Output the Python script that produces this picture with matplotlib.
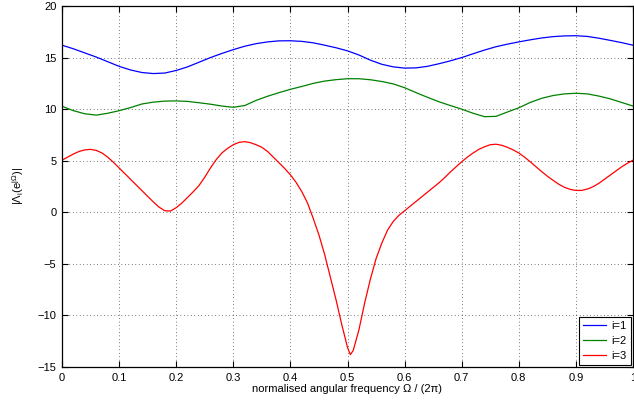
import matplotlib
matplotlib.use('Agg')
import matplotlib.pyplot as plt

plt.rcParams['font.family'] = ['Liberation Sans', 'DejaVu Sans']
plt.rcParams['mathtext.fontset'] = 'custom'
plt.rcParams['mathtext.rm'] = 'Liberation Sans'
plt.rcParams['mathtext.it'] = 'Liberation Sans'

# values
w_bg = [i / 50 for i in range(51)]  # 0, 0.02, ..., 1
lam1 = [16.2, 15.85, 15.45, 15.05, 14.6, 14.15, 13.8, 13.55, 13.45, 13.5,
        13.75, 14.1, 14.55, 15.0, 15.4, 15.77, 16.1, 16.35, 16.52, 16.62,
        16.63, 16.57, 16.43, 16.2, 15.95, 15.65, 15.25, 14.75, 14.35, 14.1,
        13.98, 14.0, 14.15, 14.4, 14.68, 15.0, 15.37, 15.73, 16.05, 16.3,
        16.52, 16.72, 16.9, 17.03, 17.1, 17.12, 17.05, 16.88, 16.67, 16.45, 16.2]
lam2 = [10.28, 9.85, 9.55, 9.42, 9.6, 9.85, 10.15, 10.5, 10.68, 10.78,
        10.8, 10.75, 10.62, 10.48, 10.3, 10.18, 10.35, 10.85, 11.25, 11.6,
        11.92, 12.2, 12.5, 12.72, 12.86, 12.95, 12.95, 12.85, 12.68, 12.45,
        12.08, 11.6, 11.15, 10.72, 10.35, 10.0, 9.6, 9.27, 9.3, 9.72,
        10.13, 10.65, 11.05, 11.32, 11.48, 11.54, 11.48, 11.27, 11.0, 10.65, 10.3]
w_red = sorted([i / 100 for i in range(101)] + [0.505])
lam3 = [5.05, 5.35, 5.65, 5.9, 6.05, 6.1, 6.0, 5.75, 5.35, 4.85,
        4.3, 3.75, 3.2, 2.65, 2.1, 1.55, 1.0, 0.5, 0.15, 0.12,
        0.45, 0.9, 1.45, 2.0, 2.6, 3.4, 4.3, 5.1, 5.75, 6.2,
        6.55, 6.78, 6.85, 6.75, 6.55, 6.3, 5.9, 5.35, 4.8, 4.25,
        3.63, 2.9, 2.0, 0.9, -0.6, -2.2, -4.1, -6.3, -8.5, -10.9,
        -13.1, -13.8, -13.4, -11.4, -8.8, -6.5, -4.5, -3.0, -1.75, -0.9, -0.3,
        0.15, 0.6, 1.05, 1.5, 1.95, 2.4, 2.85, 3.35, 3.9, 4.4,
        4.9, 5.35, 5.75, 6.1, 6.35, 6.55, 6.6, 6.5, 6.3, 6.05,
        5.75, 5.35, 4.9, 4.42, 3.95, 3.5, 3.1, 2.72, 2.42, 2.22,
        2.12, 2.12, 2.25, 2.48, 2.8, 3.2, 3.6, 4.0, 4.4, 4.75, 5.05]

fig = plt.figure(figsize=(6.34, 4.12), dpi=100)
ax = fig.add_axes([62 / 634, 1 - 367 / 412, 571 / 634, 361 / 412])

ax.plot(w_bg, lam1, color=(0, 0, 1), lw=0.9, label='i=1')
ax.plot(w_bg, lam2, color=(0, 0.5, 0), lw=0.9, label='i=2')
ax.plot(w_red, lam3, color=(1, 0, 0), lw=0.9, label='i=3')

ax.set_xlim(0, 1)
ax.set_ylim(-15, 20)
ax.set_xticks([i / 10 for i in range(11)])
ax.set_xticklabels(['0', '0.1', '0.2', '0.3', '0.4', '0.5', '0.6', '0.7', '0.8', '0.9', '1'])
ax.set_yticks(range(-15, 21, 5))
ax.tick_params(direction='in', top=True, right=True, labelsize=8, length=4, width=0.8, pad=4)
ax.grid(True, color='black', linestyle=(0, (1, 4)), linewidth=0.5)
for s in ax.spines.values():
    s.set_linewidth(0.9)

ax.set_xlabel('normalised angular frequency \u03a9 / (2\u03c0)', fontsize=8, labelpad=1)
ax.set_ylabel(r'$|\mathrm{\Lambda_i(e^{j\Omega})}|$', fontsize=8, labelpad=8)

leg = ax.legend(loc='lower right', fontsize=8, fancybox=False, framealpha=1,
                edgecolor='black', borderaxespad=0.2, handlelength=2.0,
                handletextpad=0.55, labelspacing=0.45, borderpad=0.35)
leg.get_frame().set_linewidth(0.8)

fig.savefig('out.png', dpi=100)
